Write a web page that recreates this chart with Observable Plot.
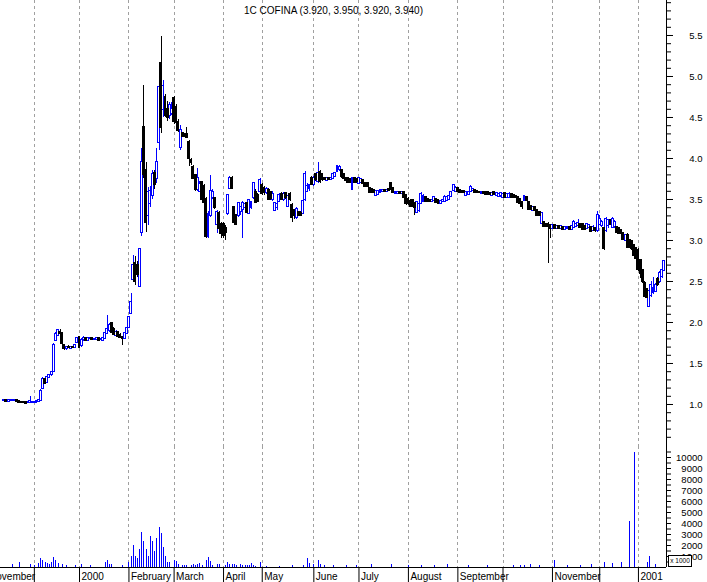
<!DOCTYPE html>
<html><head><meta charset="utf-8">
<script src="https://cdn.jsdelivr.net/npm/d3@7"></script>
<script src="https://cdn.jsdelivr.net/npm/@observablehq/plot@0.6"></script>
<style>
body{margin:0;background:#fff;}
#wrap{position:relative;width:707px;height:582px;overflow:hidden;font-family:"Liberation Sans",Arial,sans-serif;background:#fff;}
#wrap svg{display:block;}
#wrap svg line,#wrap svg rect{shape-rendering:crispEdges;}
#unit{position:absolute;left:668px;top:555px;width:22px;height:10px;border:1px solid #000;background:#fff;font-size:6.5px;line-height:10px;text-align:center;white-space:nowrap;}
</style></head><body><div id="wrap"></div>
<script>
// Daily OHLC (trading days, Nov 1999 .. Jan 2001)
const open = [
1.05,1.05,1.04,1.05,1.05,1.05,1.05,1.04,1.03,1.03,1.02,1.02,1.02,1.03,
1.03,1.03,1.04,1.05,1.20,1.30,1.27,1.33,1.36,1.40,1.78,1.84,1.88,1.87,1.72,1.68,1.70,1.68,1.70,1.69,1.76,
1.82,1.72,1.79,1.80,1.78,1.80,1.80,1.79,1.79,1.80,1.79,1.78,1.80,1.86,1.90,1.99,1.92,1.84,1.88,1.84,1.82,1.80,1.86,
1.94,2.11,2.52,2.72,2.70,2.44,3.10,4.38,3.85,3.30,3.45,3.55,3.82,3.75,4.20,5.16,4.60,4.74,4.60,4.52,4.55,
4.73,4.62,4.44,4.13,4.30,4.29,4.29,4.20,3.98,3.89,3.79,3.62,3.60,3.71,3.66,3.50,3.05,3.30,3.52,3.51,3.20,3.33,3.20,
3.20,3.15,3.33,3.64,3.76,3.40,3.30,3.30,3.35,3.38,3.40,3.45,3.33,3.40,3.52,3.59,3.55,3.60,
3.67,3.63,3.58,3.61,3.58,3.50,3.37,3.40,3.48,3.56,3.50,3.57,3.42,3.56,3.43,3.36,3.28,3.34,3.33,3.33,3.50,3.60,3.63,3.76,
3.68,3.80,3.72,3.83,3.80,3.76,3.73,3.76,3.74,3.76,3.78,3.84,3.86,3.85,3.80,3.76,3.76,3.74,3.62,3.76,3.74,
3.70,3.71,3.73,3.70,3.69,3.63,3.62,3.61,3.55,3.56,3.59,3.60,3.61,3.60,3.62,3.70,3.63,3.57,3.57,3.59,3.57,3.58,3.55,
3.50,3.48,3.49,3.45,3.34,3.36,3.45,3.48,3.52,3.50,3.49,3.47,3.49,3.50,3.49,3.45,3.47,3.47,3.49,3.50,3.54,3.61,3.60,
3.63,3.61,3.60,3.60,3.55,3.56,3.60,3.61,3.61,3.60,3.59,3.57,3.59,3.58,3.58,3.57,3.55,3.58,3.55,3.54,3.55,
3.53,3.57,3.52,3.53,3.56,3.55,3.54,3.52,3.50,3.46,3.49,3.52,3.46,3.42,3.37,3.40,3.37,3.34,3.21,3.22,3.20,3.19,3.18,
3.15,3.18,3.15,3.17,3.15,3.16,3.14,3.15,3.16,3.14,3.16,3.17,3.18,3.20,3.19,3.17,3.15,3.16,3.16,3.12,3.15,3.12,
3.20,3.18,3.15,3.12,3.18,3.24,3.16,3.17,3.16,3.15,3.12,3.09,3.00,3.06,3.00,2.99,2.94,2.90,
2.88,2.75,2.63,2.48,2.40,2.20,2.33,2.36,2.38,2.53,2.50,2.56,2.64];
const high = [
1.05,1.05,1.05,1.05,1.06,1.05,1.05,1.04,1.04,1.03,1.03,1.04,1.10,1.04,
1.04,1.05,1.06,1.18,1.33,1.32,1.34,1.36,1.40,1.74,1.88,1.91,1.91,1.87,1.73,1.71,1.72,1.71,1.71,1.73,1.82,
1.83,1.80,1.83,1.81,1.81,1.81,1.81,1.80,1.80,1.80,1.80,1.80,1.88,2.08,1.99,2.00,1.94,1.90,1.89,1.86,1.83,1.88,1.94,
2.07,2.35,2.82,2.80,2.74,2.90,4.12,4.89,3.95,3.65,3.66,3.85,3.85,4.12,4.88,5.49,4.95,4.78,4.70,4.68,4.68,
4.75,4.66,4.48,4.40,4.31,4.30,4.38,4.22,4.00,3.92,3.80,3.88,3.72,3.72,3.68,3.52,3.35,3.79,3.62,3.53,3.36,3.35,3.22,
3.22,3.18,3.56,3.78,3.78,3.42,3.32,3.46,3.42,3.48,3.46,3.47,3.50,3.48,3.71,3.62,3.57,3.75,
3.70,3.66,3.65,3.63,3.60,3.60,3.46,3.47,3.57,3.58,3.58,3.59,3.56,3.58,3.45,3.38,3.40,3.35,3.35,3.50,3.84,3.70,3.68,3.78,
3.78,3.82,3.95,3.85,3.82,3.77,3.77,3.77,3.77,3.82,3.83,3.92,3.91,3.86,3.82,3.77,3.77,3.75,3.77,3.77,3.75,
3.76,3.76,3.74,3.71,3.70,3.64,3.63,3.62,3.61,3.61,3.62,3.62,3.62,3.62,3.63,3.71,3.64,3.60,3.60,3.60,3.60,3.59,3.56,
3.52,3.50,3.50,3.46,3.47,3.45,3.58,3.56,3.53,3.51,3.50,3.50,3.53,3.51,3.50,3.48,3.50,3.55,3.54,3.55,3.60,3.68,3.66,
3.64,3.62,3.61,3.61,3.59,3.59,3.67,3.64,3.62,3.61,3.60,3.60,3.60,3.59,3.59,3.58,3.58,3.59,3.58,3.57,3.58,
3.57,3.58,3.57,3.58,3.57,3.56,3.55,3.53,3.51,3.48,3.55,3.53,3.47,3.43,3.41,3.41,3.38,3.35,3.34,3.23,3.21,3.22,3.19,
3.19,3.19,3.18,3.18,3.18,3.17,3.17,3.17,3.17,3.18,3.24,3.22,3.25,3.21,3.20,3.18,3.20,3.19,3.17,3.18,3.16,3.35,
3.30,3.24,3.16,3.28,3.26,3.25,3.28,3.24,3.17,3.16,3.13,3.10,3.07,3.08,3.01,3.00,2.95,2.92,
2.90,2.77,2.64,2.50,2.42,2.40,2.50,2.55,2.48,2.55,2.62,2.66,2.76];
const low = [
1.04,1.03,1.04,1.05,1.05,1.04,1.04,1.02,1.02,1.01,1.01,1.01,1.02,1.02,
1.02,1.03,1.03,1.05,1.19,1.24,1.26,1.32,1.34,1.39,1.77,1.83,1.86,1.72,1.66,1.66,1.68,1.67,1.68,1.69,1.75,
1.68,1.70,1.77,1.77,1.77,1.79,1.78,1.78,1.78,1.78,1.78,1.78,1.79,1.85,1.88,1.86,1.84,1.82,1.82,1.80,1.72,1.79,1.85,
1.93,2.10,2.50,2.45,2.55,2.43,3.05,3.75,3.10,3.18,3.40,3.50,3.62,3.70,4.10,4.30,4.50,4.50,4.45,4.48,4.52,
4.42,4.40,4.32,4.10,4.26,4.26,4.25,3.90,3.92,3.74,3.60,3.60,3.58,3.48,3.44,3.02,3.02,3.28,3.50,3.38,3.08,3.12,3.02,
3.02,3.00,3.30,3.62,3.62,3.20,3.18,3.28,3.30,3.02,3.38,3.32,3.32,3.38,3.50,3.45,3.46,3.58,
3.55,3.55,3.56,3.49,3.49,3.48,3.35,3.36,3.46,3.49,3.48,3.50,3.40,3.48,3.22,3.26,3.26,3.29,3.30,3.32,3.48,3.58,3.60,3.67,
3.66,3.72,3.70,3.70,3.72,3.73,3.72,3.73,3.73,3.75,3.77,3.83,3.84,3.76,3.75,3.72,3.70,3.70,3.61,3.70,3.70,
3.69,3.70,3.68,3.65,3.65,3.57,3.57,3.57,3.54,3.55,3.58,3.59,3.60,3.59,3.60,3.61,3.58,3.56,3.56,3.56,3.56,3.52,3.43,
3.43,3.40,3.40,3.30,3.33,3.34,3.44,3.46,3.46,3.46,3.46,3.46,3.48,3.45,3.44,3.44,3.46,3.46,3.48,3.49,3.53,3.60,3.59,
3.59,3.58,3.58,3.57,3.54,3.55,3.59,3.60,3.58,3.57,3.57,3.56,3.56,3.55,3.55,3.55,3.54,3.55,3.54,3.53,3.53,
3.52,3.52,3.51,3.52,3.52,3.51,3.51,3.45,3.44,3.38,3.48,3.48,3.37,3.36,3.36,3.36,3.30,3.29,3.20,3.16,3.16,2.72,3.02,
3.14,3.14,3.14,3.14,3.14,3.13,3.13,3.14,3.13,3.13,3.15,3.16,3.17,3.15,3.12,3.12,3.14,3.15,3.10,3.11,3.10,3.10,
3.18,3.16,2.88,3.10,3.15,3.18,3.15,3.15,3.08,3.08,3.07,3.00,2.99,2.90,2.90,2.88,2.80,2.76,
2.62,2.54,2.48,2.30,2.20,2.18,2.30,2.34,2.36,2.44,2.48,2.54,2.62];
const close = [
1.05,1.04,1.05,1.05,1.05,1.05,1.04,1.03,1.02,1.02,1.01,1.03,1.04,1.03,
1.03,1.04,1.05,1.16,1.30,1.26,1.33,1.35,1.39,1.72,1.85,1.90,1.87,1.74,1.68,1.70,1.69,1.70,1.69,1.72,1.81,
1.70,1.78,1.81,1.78,1.80,1.80,1.79,1.79,1.80,1.78,1.79,1.80,1.86,1.92,1.96,1.88,1.85,1.88,1.83,1.82,1.80,1.87,1.93,
2.06,2.24,2.70,2.50,2.58,2.89,3.95,3.80,3.22,3.58,3.60,3.80,3.68,3.95,4.86,4.38,4.88,4.52,4.50,4.65,4.60,
4.45,4.44,4.34,4.34,4.27,4.27,4.26,4.00,3.95,3.76,3.62,3.75,3.68,3.50,3.46,3.05,3.32,3.60,3.58,3.40,3.34,3.15,3.08,
3.06,3.10,3.55,3.75,3.64,3.22,3.20,3.45,3.40,3.45,3.44,3.34,3.49,3.46,3.70,3.46,3.48,3.73,
3.57,3.58,3.62,3.50,3.51,3.56,3.45,3.44,3.55,3.50,3.56,3.52,3.54,3.50,3.28,3.30,3.38,3.30,3.31,3.48,3.80,3.66,3.67,3.68,
3.76,3.74,3.82,3.72,3.74,3.74,3.76,3.74,3.76,3.81,3.82,3.90,3.89,3.78,3.76,3.73,3.71,3.71,3.75,3.71,3.72,
3.75,3.74,3.70,3.66,3.66,3.58,3.58,3.59,3.60,3.60,3.61,3.61,3.60,3.61,3.61,3.62,3.59,3.59,3.59,3.57,3.59,3.53,3.45,
3.45,3.42,3.41,3.40,3.46,3.44,3.56,3.54,3.48,3.47,3.47,3.49,3.52,3.46,3.45,3.47,3.49,3.53,3.52,3.54,3.58,3.67,3.64,
3.60,3.59,3.59,3.58,3.58,3.58,3.65,3.62,3.59,3.58,3.58,3.59,3.57,3.56,3.56,3.56,3.57,3.56,3.57,3.56,3.57,
3.56,3.53,3.56,3.56,3.53,3.52,3.52,3.46,3.45,3.42,3.54,3.49,3.38,3.38,3.40,3.37,3.31,3.30,3.33,3.17,3.17,3.17,3.15,
3.18,3.15,3.17,3.15,3.17,3.14,3.16,3.16,3.14,3.17,3.22,3.20,3.21,3.16,3.13,3.14,3.19,3.18,3.11,3.16,3.12,3.30,
3.26,3.22,2.90,3.25,3.24,3.19,3.26,3.22,3.10,3.09,3.08,3.01,3.06,2.92,2.92,2.90,2.82,2.78,
2.65,2.60,2.50,2.32,2.30,2.38,2.45,2.42,2.45,2.46,2.60,2.64,2.74];

// Volume (x 1000), sparse: trading-day index and value
const volDay = [
4,7,12,14,16,17,18,19,20,21,22,23,24,25,27,29,33,36,40,47,48,49,50,55,
58,59,60,61,62,63,64,65,66,67,68,69,70,71,72,73,74,75,76,77,
79,80,81,83,84,85,87,88,89,90,91,92,94,95,96,97,99,100,
103,104,105,106,107,108,110,111,112,113,114,115,116,117,119,
122,128,134,139,141,142,144,146,147,149,153,159,164,
171,180,188,194,200,206,216,225,237,240,242,245,249,256,262,268,273,
279,283,287,291,293,299,300,303];
const volK = [
0.3,0.5,0.25,0.2,0.4,0.8,0.6,0.5,0.4,0.3,0.5,0.9,0.6,0.4,0.3,0.2,0.2,0.3,0.15,0.5,0.6,0.3,0.25,0.2,
0.5,1.0,2.0,1.0,0.8,1.6,3.2,2.4,1.6,1.0,2.8,2.4,1.5,2.6,3.6,3.1,1.8,1.0,0.5,0.5,
0.6,0.55,0.3,0.2,0.15,0.2,0.15,0.25,0.2,0.25,0.35,0.2,0.6,0.9,0.55,0.15,0.3,0.25,
0.15,0.45,0.25,0.3,0.25,0.15,0.3,0.15,0.15,0.15,0.15,0.4,0.15,0.1,0.45,
0.1,0.1,0.15,0.15,0.85,0.35,0.3,0.65,0.3,0.15,0.2,0.15,0.2,
0.25,0.3,0.2,0.2,0.15,0.25,0.2,0.15,0.2,0.15,0.2,0.3,0.2,0.6,0.15,0.2,0.3,
0.5,0.4,0.5,4.2,10.5,0.5,1.0,0.3];

// Month boundaries (trading-day index) and their labels
const monthStart = [-8,14,35,58,79,102,120,144,165,188,211,232,255,277,295];
const monthLabel = ["November","","2000","February","March","April","May","June","July","August","September","","November","","2001"];
const priceTicks = [1.0,1.5,2.0,2.5,3.0,3.5,4.0,4.5,5.0,5.5];
const volTicks = [1000,2000,3000,4000,5000,6000,7000,8000,9000,10000];
const title = "1C COFINA (3.920, 3.950, 3.920, 3.940)";

const N = open.length;
if (high.length !== N || low.length !== N || close.length !== N) throw new Error("OHLC length mismatch " + [N, high.length, low.length, close.length]);
if (volDay.length !== volK.length) throw new Error("volume length mismatch " + volDay.length + " " + volK.length);

const days = d3.range(N).map(i => ({i, o: open[i], h: high[i], l: low[i], c: close[i]}));
const up = days.filter(d => d.c >= d.o);
const down = days.filter(d => d.c < d.o);
const vols = volDay.map((i, k) => ({i, v: volK[k] * 1000}));
const months = monthStart.map((i, k) => ({i, label: monthLabel[k]})).filter(d => d.label !== "");
const priceMinor = d3.range(6, 60).map(k => k / 10);
const volMinor = d3.range(1, 22).map(k => k * 500);

const xDomain = [-1.75, 308.05];
const BW = 0.45;
const BLUE = "#0000ff";
const GRID = "#a0a0a0";
const font = {fontFamily: "Liberation Sans, Arial, sans-serif", fontSize: "9.5px", background: "white", overflow: "visible"};

const priceChart = Plot.plot({
  width: 707, height: 446, marginTop: 0, marginBottom: 0, marginLeft: 0, marginRight: 41,
  style: font,
  x: {domain: xDomain, axis: null, label: null},
  y: {domain: [0.4878, 5.9268], axis: null, label: null},
  marks: [
    Plot.ruleX(monthStart, {stroke: GRID, strokeDasharray: "3,3"}),
    Plot.ruleX(up, {x: "i", y1: "l", y2: "h", stroke: BLUE}),
    Plot.ruleX(down, {x: "i", y1: "l", y2: "h", stroke: "black"}),
    Plot.rect(up, {x1: d => d.i - BW, x2: d => d.i + BW, y1: "o", y2: "c", fill: "white", stroke: BLUE, insetTop: -0.5, insetBottom: -0.5}),
    Plot.rect(down, {x1: d => d.i - BW, x2: d => d.i + BW, y1: "o", y2: "c", fill: "black", stroke: "black", insetTop: -0.5, insetBottom: -0.5}),
    Plot.ruleX([xDomain[1]], {stroke: "black"}),
    Plot.axisY({ticks: priceMinor, anchor: "right", tickSize: 4, tickFormat: () => "", label: null}),
    Plot.axisY({ticks: priceTicks, anchor: "right", tickSize: 6, tickFormat: () => "", label: null}),
    Plot.text(priceTicks, {y: d => d, text: d => d.toFixed(1), frameAnchor: "right", dx: 36, textAnchor: "end", lineAnchor: "middle"}),
    Plot.text([title], {text: d => d, frameAnchor: "top", dy: 10, lineAnchor: "middle", fontSize: 10})
  ]
});

const volChart = Plot.plot({
  width: 707, height: 136, marginTop: 0, marginBottom: 15, marginLeft: 0, marginRight: 41,
  style: font,
  x: {domain: xDomain, axis: null, label: null},
  y: {domain: [0, 11000], axis: null, label: null},
  marks: [
    Plot.ruleX(monthStart, {stroke: GRID, strokeDasharray: "3,3"}),
    Plot.ruleX(vols, {x: "i", y1: 0, y2: "v", stroke: BLUE}),
    Plot.ruleY([0], {stroke: "black"}),
    Plot.ruleX([xDomain[1]], {stroke: "black"}),
    Plot.axisY({ticks: volMinor, anchor: "right", tickSize: 4, tickFormat: () => "", label: null}),
    Plot.text(volTicks, {y: d => d, text: d => String(d), frameAnchor: "right", dx: 36, textAnchor: "end", lineAnchor: "middle"}),
    Plot.axisX({ticks: monthStart, anchor: "bottom", tickSize: 15, tickFormat: () => "", label: null}),
    Plot.text(months, {x: "i", text: "label", frameAnchor: "bottom", dy: 9, dx: 2, textAnchor: "start", lineAnchor: "middle", fontSize: 10})
  ]
});

const wrap = document.getElementById("wrap");
wrap.appendChild(priceChart);
wrap.appendChild(volChart);
const unit = document.createElement("div");
unit.id = "unit";
unit.textContent = "x 1000";
wrap.appendChild(unit);
</script>
</body></html>
